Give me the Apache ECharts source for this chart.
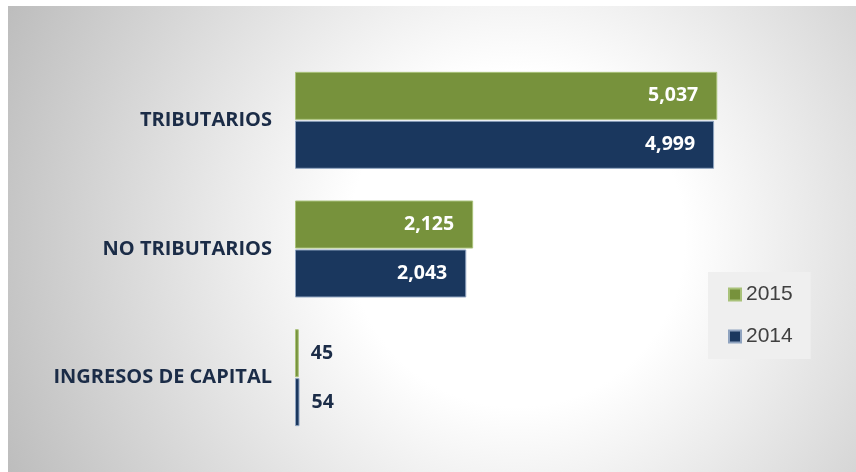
<!DOCTYPE html>
<html>
<head>
	<meta charset="utf-8">
	<title>ingresos</title>
	<script src="https://cdn.jsdelivr.net/npm/echarts@6/dist/echarts.min.js"></script>
	<style type="text/css">
		html, body { margin: 0; padding: 0; background: #ffffff; }
		#chart {
			position: absolute;
			left: 8px;
			top: 6px;
			width: 848px;
			height: 466px;
		}
	</style>
</head>
<body>
	<div id="chart"></div>
	<script type="text/javascript">
	// datos
	var categorias = ['TRIBUTARIOS', 'NO TRIBUTARIOS', 'INGRESOS DE CAPITAL'];
	var anios = ['2015', '2014'];
	var valores2015 = [5037, 2125, 45];
	var valores2014 = [4999, 2043, 54];

	var verde = '#77923c';
	var azul = '#1a375e';
	var textoOscuro = '#1b2c47';
	var fuenteNegrita = '"Open Sans", "Liberation Sans", sans-serif';

	function armarDatos(arr) {
		return arr.map(function (v) {
			if (v < 500) {
				return {
					value: v,
					label: { position: 'right', distance: 12, color: textoOscuro }
				};
			}
			return v;
		});
	}

	var myChart = echarts.init(document.getElementById('chart'));
	var option = {
		backgroundColor: {
			type: 'radial',
			x: 0.6, y: 0.5, r: 1.2,
			colorStops: [
				{ offset: 0, color: '#ffffff' },
				{ offset: 0.3, color: '#ffffff' },
				{ offset: 1, color: '#bdbdbd' }
			]
		},
		textStyle: { fontFamily: 'Liberation Sans, Arial, sans-serif' },
		animation: false,
		grid: { left: 287, top: 50, bottom: 30, right: 58 },
		legend: {
			orient: 'vertical',
			left: 700,
			top: 266,
			padding: [12, 18, 12, 20],
			backgroundColor: '#efefef',
			itemWidth: 12,
			itemHeight: 12,
			itemGap: 21,
			icon: 'rect',
			data: anios,
			textStyle: { fontSize: 21, color: '#404040' }
		},
		xAxis: {
			type: 'value',
			min: 0,
			max: 6000,
			show: false
		},
		yAxis: {
			type: 'category',
			inverse: true,
			data: categorias,
			axisLine: { show: false },
			axisTick: { show: false },
			axisLabel: {
				margin: 23,
				fontSize: 20,
				fontWeight: 'bold',
				fontFamily: fuenteNegrita,
				color: textoOscuro
			}
		},
		series: [
			{
				name: '2015',
				type: 'bar',
				barWidth: 48,
				barGap: '2%',
				data: armarDatos(valores2015),
				itemStyle: { color: verde, borderColor: '#a9c27a', borderWidth: 1 },
				label: {
					show: true,
					position: 'insideRight',
					distance: 19,
					fontSize: 19.5,
					fontWeight: 'bold',
					fontFamily: fuenteNegrita,
					color: '#ffffff',
					formatter: function (p) { return p.value.toLocaleString('en-US'); }
				}
			},
			{
				name: '2014',
				type: 'bar',
				barWidth: 48,
				barGap: '2%',
				data: armarDatos(valores2014),
				itemStyle: { color: azul, borderColor: '#8fa3bf', borderWidth: 1 },
				label: {
					show: true,
					position: 'insideRight',
					distance: 19,
					fontSize: 19.5,
					fontWeight: 'bold',
					fontFamily: fuenteNegrita,
					color: '#ffffff',
					formatter: function (p) { return p.value.toLocaleString('en-US'); }
				}
			}
		]
	};
	myChart.setOption(option);
	</script>
</body>
</html>
